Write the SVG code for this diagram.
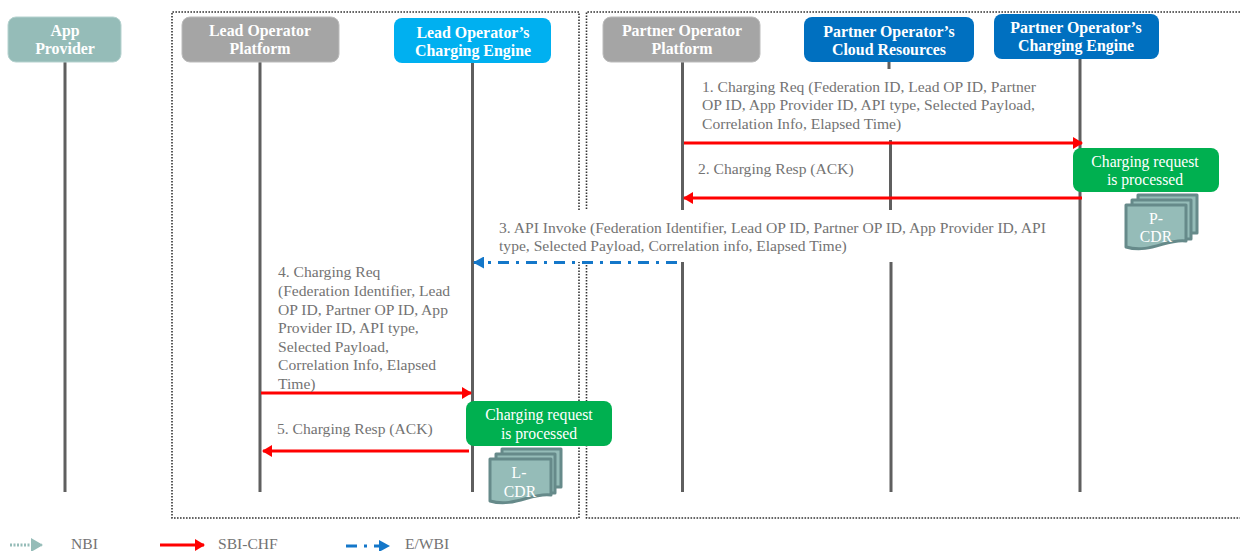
<svg xmlns="http://www.w3.org/2000/svg" width="1240" height="551" viewBox="0 0 1240 551">
<style>
text{font-family:"Liberation Serif","Times New Roman",serif}
.n{font-size:15.900px;font-weight:bold;fill:#fff;text-anchor:middle}
.l{font-size:15.600px;fill:#737373}
.g{font-size:15.700px;fill:#fff;text-anchor:middle}
.life{stroke:#5f5f5f;stroke-width:3;fill:none}
.dot{stroke:#333;stroke-width:1.6;stroke-dasharray:1.6 1.4;fill:none}
.red{stroke:#f00;stroke-width:3;fill:none}
.blue{stroke:#1477c9;stroke-width:3;fill:none;stroke-dasharray:11 7 3 7}
.cdr{fill:#95bcb8;stroke:#668a8a;stroke-width:3;stroke-linejoin:round}
</style>
<defs>
<marker id="ar" markerUnits="userSpaceOnUse" markerWidth="10" markerHeight="12" refX="9" refY="6" orient="auto-start-reverse"><path d="M0 0L10 6L0 12Z" fill="#f00"/></marker>
<marker id="ab" markerUnits="userSpaceOnUse" markerWidth="11" markerHeight="12" refX="10" refY="6" orient="auto-start-reverse"><path d="M0 0L11 6L0 12Z" fill="#1477c9"/></marker>
<marker id="at" markerUnits="userSpaceOnUse" markerWidth="12" markerHeight="14" refX="11" refY="7" orient="auto"><path d="M0 0L12 7L0 14Z" fill="#95bcb8"/></marker>
</defs>
<rect width="1240" height="551" fill="#fff"/>
<g id="boundaries">
<path class="dot" d="M579 210V12H172V518H579V262"/>
<path class="dot" d="M1240 12H586.500V210M586.500 262V518H1240"/>
</g>
<g id="lifelines">
<path class="life" d="M65 62V492"/>
<path class="life" d="M260 62V492"/>
<path class="life" d="M472.500 63V492"/>
<path class="life" d="M682.500 62V210M682.500 262V492"/>
<path class="life" d="M889 62V69M890.500 140V210M891 262V492"/>
<path class="life" d="M1080 59V492"/>
</g>
<g id="connectors">
<path class="red" d="M684 143H1082" marker-end="url(#ar)"/>
<path class="red" d="M1082 198H684" marker-end="url(#ar)"/>
<path class="blue" d="M677 262.500H474" marker-end="url(#ab)"/>
<path class="red" d="M261 393H471" marker-end="url(#ar)"/>
<path class="red" d="M469 451H263" marker-end="url(#ar)"/>
</g>
<g id="app-provider"><rect x="8" y="17" width="113" height="45" rx="8" fill="#95bcb8" stroke="#b5d2cf"/><text class="n" x="65" y="36">App</text><text class="n" x="65" y="54">Provider</text></g>
<g id="lead-platform"><rect x="182" y="17" width="157" height="45" rx="8" fill="#a5a5a5" stroke="#bbb"/><text class="n" x="260" y="36">Lead Operator</text><text class="n" x="260" y="54">Platform</text></g>
<g id="lead-charging"><rect x="394" y="18" width="157" height="45" rx="8" fill="#00b0f0"/><text class="n" x="473" y="38">Lead Operator’s</text><text class="n" x="473" y="56">Charging Engine</text></g>
<g id="partner-platform"><rect x="603" y="17" width="157" height="45" rx="8" fill="#a5a5a5" stroke="#bbb"/><text class="n" x="682" y="36">Partner Operator</text><text class="n" x="682" y="54">Platform</text></g>
<g id="partner-cloud"><rect x="804" y="17" width="170" height="45" rx="8" fill="#0070c0"/><text class="n" x="889" y="37">Partner  Operator’s</text><text class="n" x="889" y="55">Cloud Resources</text></g>
<g id="partner-charging"><rect x="994" y="14" width="165" height="45" rx="8" fill="#0070c0"/><text class="n" x="1076" y="33">Partner Operator’s</text><text class="n" x="1076" y="51">Charging Engine</text></g>
<g id="labels">
<text class="l" x="702" y="92">1. Charging Req (Federation ID, Lead OP ID, Partner</text>
<text class="l" x="702" y="110">OP ID, App Provider ID, API type, Selected Payload,</text>
<text class="l" x="702" y="129">Correlation Info, Elapsed Time)</text>
<text class="l" x="698" y="174">2. Charging Resp (ACK)</text>
<text class="l" x="499" y="233">3. API Invoke (Federation Identifier, Lead OP ID, Partner OP ID, App Provider ID, API</text>
<text class="l" x="499" y="251">type, Selected Payload, Correlation info, Elapsed Time)</text>
<text class="l" x="278" y="277">4. Charging Req</text>
<text class="l" x="278" y="296">(Federation Identifier, Lead</text>
<text class="l" x="278" y="315">OP ID, Partner OP ID, App</text>
<text class="l" x="278" y="333">Provider ID, API type,</text>
<text class="l" x="278" y="352">Selected Payload,</text>
<text class="l" x="278" y="370">Correlation Info, Elapsed</text>
<text class="l" x="278" y="389">Time)</text>
<text class="l" x="277" y="434">5. Charging Resp (ACK)</text>
</g>
<g id="processed-partner"><rect x="1073" y="148" width="146" height="44" rx="8" fill="#00b050"/><text class="g" x="1145" y="167">Charging request</text><text class="g" x="1145" y="185">is processed</text></g>
<g id="p-cdr">
<rect class="cdr" x="1138" y="195" width="59" height="38"/>
<rect class="cdr" x="1132" y="200" width="59" height="39"/>
<path class="cdr" d="M1126 205H1186V241C1168 238 1150 254 1126 247Z"/>
<text class="g" x="1156" y="224">P-</text><text class="g" x="1156" y="242">CDR</text>
</g>
<g id="processed-lead"><rect x="466" y="401" width="146" height="45" rx="8" fill="#00b050"/><text class="g" x="539" y="420">Charging request</text><text class="g" x="539" y="439">is processed</text></g>
<g id="l-cdr">
<rect class="cdr" x="502" y="449" width="59" height="38"/>
<rect class="cdr" x="496" y="454" width="59" height="39"/>
<path class="cdr" d="M490 459H551V495C532 492 514 508 490 501Z"/>
<text class="g" x="519" y="478">L-</text><text class="g" x="520" y="497">CDR</text>
</g>
<g id="legend">
<path d="M10 545H42" stroke="#95bcb8" stroke-width="3" stroke-dasharray="2 1.500" fill="none" marker-end="url(#at)"/>
<path class="red" d="M160 545H204" marker-end="url(#ar)"/>
<path class="blue" d="M346 546H389" marker-end="url(#ab)"/>
<text class="l" x="71" y="549">NBI</text><text class="l" x="218" y="549">SBI-CHF</text><text class="l" x="405" y="549">E/WBI</text>
</g>
</svg>
